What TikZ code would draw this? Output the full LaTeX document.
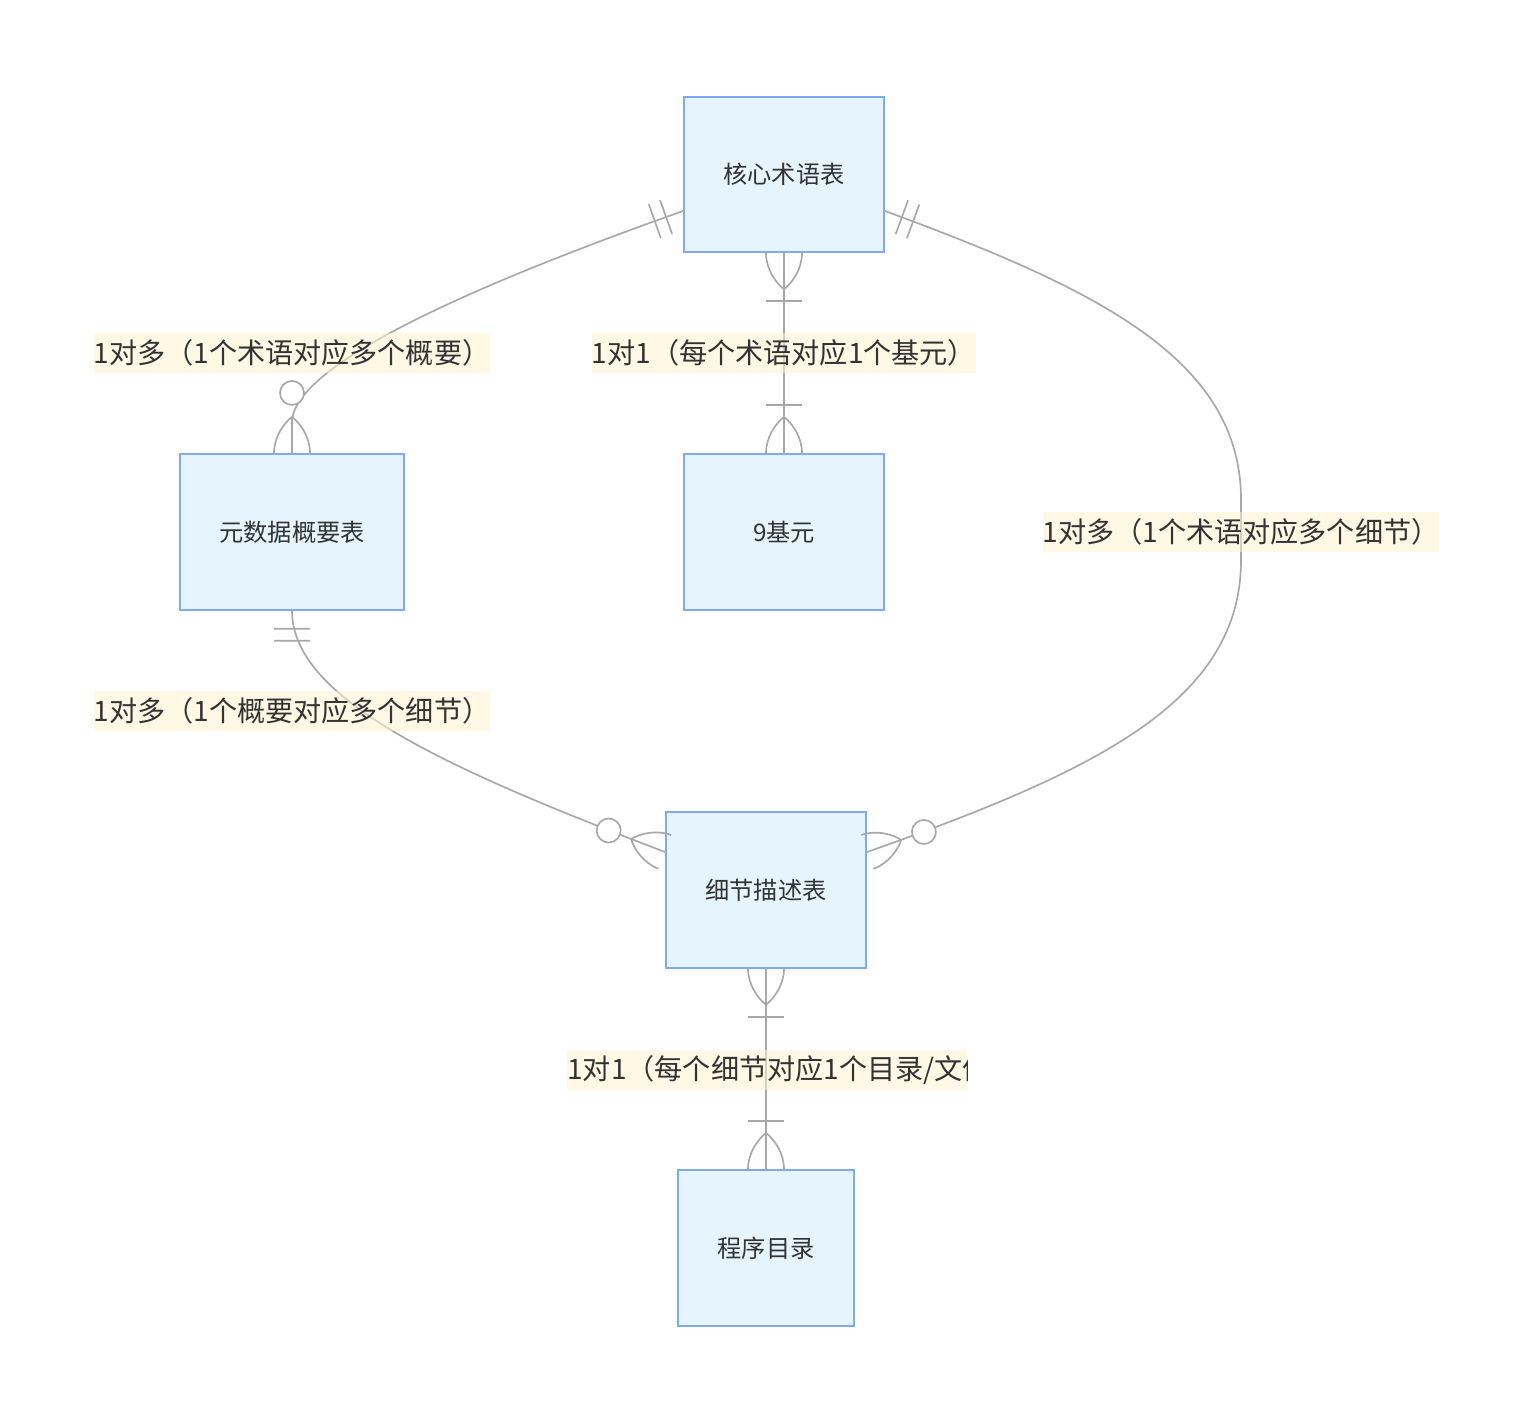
\documentclass[tikz,border=0pt]{standalone}
\usepackage{fontspec}
\setmainfont{Noto Sans CJK SC}
\usetikzlibrary{decorations.markings}

\definecolor{tblblue}{HTML}{7FA8F5}
\definecolor{tblfill}{HTML}{E5F4FD}
\definecolor{relgray}{HTML}{A8A8A8}
\definecolor{lblfill}{HTML}{FDF2CF}
\definecolor{txtdark}{HTML}{333333}

% marker parts, drawn with x pointing away from the table
\newcommand{\erfoot}{\draw[relmark] (0,18) .. controls (16,18) and (30,8) .. (36,0) .. controls (30,-8) and (16,-18) .. (0,-18);}
\newcommand{\erbar}[1]{\draw[relmark] (#1,-18) -- (#1,18);}
\newcommand{\ering}{\draw[relmark, fill=white] (60,0) circle (12);}

\tikzset{
    relmark/.style={draw=relgray, line width=0.95pt},
    rel/.style={relmark},
    tbl/.style={draw=tblblue, fill=tblfill, line width=1.1pt, minimum height=3.11cm, text=txtdark, font=\fontsize{13.8}{16}\selectfont},
    lbl/.style={fill=lblfill, fill opacity=0.55, text opacity=1, text=txtdark, minimum height=0.8cm, inner xsep=0pt, inner ysep=0pt, font=\fontsize{16}{19}\selectfont},
    onlyone start/.style={postaction={decorate, decoration={markings, mark=at position 0 with {\erbar{18}\erbar{30}}}}},
    onemany start/.style={postaction={decorate, decoration={markings, mark=at position 0 with {\erfoot\erbar{48}}}}},
    onemany end/.style={postaction={decorate, decoration={markings, mark=at position -0.2pt with {\begin{scope}[xscale=-1]\erfoot\erbar{48}\end{scope}}}}},
    zeromany end/.style={postaction={decorate, decoration={markings, mark=at position -0.2pt with {\begin{scope}[xscale=-1]\erfoot\ering\end{scope}}}}},
}

\begin{document}
\begin{tikzpicture}[x=0.02cm, y=-0.02cm]
    \useasboundingbox (0,0) rectangle (1533,1422);

    % Tables
    \node[tbl, minimum width=4cm] (term) at (784,174.5) {核心术语表};
    \node[tbl, minimum width=4.48cm] (summary) at (292,532) {元数据概要表};
    \node[tbl, minimum width=4cm] (prim) at (784,532) {9基元};
    \node[tbl, minimum width=4cm] (detail) at (766,890) {细节描述表};
    \node[tbl, minimum width=3.52cm] (catalog) at (766,1248) {程序目录};

    \coordinate (termL) at ([yshift=-0.73cm]term.west);
    \coordinate (termR) at ([yshift=-0.73cm]term.east);
    \coordinate (detL) at ([yshift=0.76cm]detail.west);
    \coordinate (detR) at ([yshift=0.76cm]detail.east);

    % Relations
    \draw[rel, onlyone start, zeromany end] (termL) .. controls (460,290) and (298,365) .. (292,420) -- (summary.north);
    \draw[rel, onemany start, onemany end] (term.south) -- (prim.north);
    \draw[rel, onlyone start, zeromany end] (termR) .. controls (1100,290) and (1241,360) .. (1241,500)
        -- (1241,560) .. controls (1241,700) and (1100,770) .. (detR);
    \draw[rel, onlyone start, zeromany end] (summary.south) .. controls (292,700) and (450,770) .. (detL);
    \draw[rel, onemany start, onemany end] (detail.south) -- (catalog.north);

    % Labels
    \node[lbl] (lsum) at (292,353) {1对多（1个术语对应多个概要）};
    \node[lbl] (lprim) at (784,353) {1对1（每个术语对应1个基元）};
    \node[lbl] (ldet) at (1241,532) {1对多（1个术语对应多个细节）};
    \node[lbl] (lsumdet) at (292,711) {1对多（1个概要对应多个细节）};
    \begin{scope}
        \clip (567,1050) rectangle (967,1090);
        \node[lbl, anchor=west] (lcat) at (567,1070) {1对1（每个细节对应1个目录/文件）};
    \end{scope}

\end{tikzpicture}
\end{document}
